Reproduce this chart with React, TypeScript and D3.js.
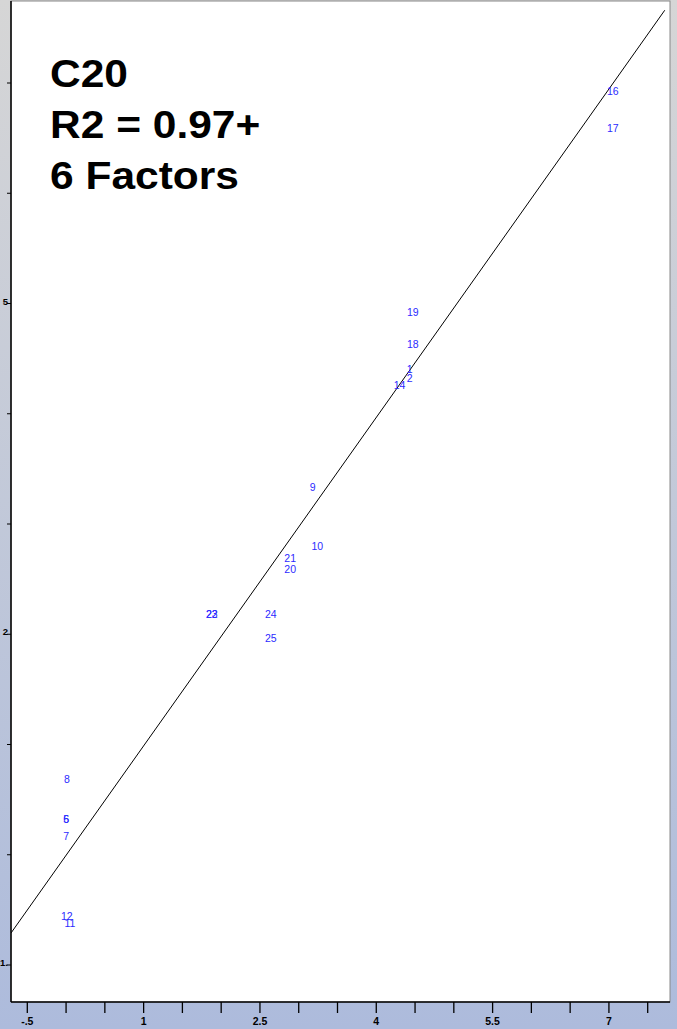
import React from "react";
import * as d3 from "d3";

const xTicks = [-0.5, 0, 0.5, 1, 1.5, 2, 2.5, 3, 3.5, 4, 4.5, 5, 5.5, 6, 6.5, 7, 7.5];
const xTickLabels = ["-.5", "", "", "1", "", "", "2.5", "", "", "4", "", "", "5.5", "", "", "7", ""];
const yTicks = [7, 6, 5, 4, 3, 2, 1, 0, -1];
const yTickLabels = ["", "", "5", "", "", "2", "", "", "-1."];

const pointLabels = ["16", "17", "19", "18", "1", "2", "14", "9", "10", "21", "20", "22", "23", "24", "25", "8", "5", "6", "7", "12", "11"];
const pointX = [7.05, 7.05, 4.47, 4.47, 4.43, 4.43, 4.3, 3.18, 3.24, 2.89, 2.89, 1.88, 1.88, 2.64, 2.64, 0.01, 0.0, 0.0, 0.0, 0.01, 0.05];
const pointY = [6.93, 6.59, 4.92, 4.63, 4.41, 4.32, 4.26, 3.34, 2.8, 2.69, 2.59, 2.18, 2.18, 2.18, 1.97, 0.69, 0.32, 0.32, 0.17, -0.56, -0.62];

const fitX = [-0.71, 7.72];
const fitY = [-0.71, 7.66];

const titleLines = ["C20", "R2 = 0.97+", "6 Factors"];

export default function App() {
  const W = 677, H = 1029;
  const left = 11, right = 670, top = 1, bottom = 1002;
  const x = d3.scaleLinear().domain([-0.5, 7.5]).range([27.3, 647.7]);
  const y = d3.scaleLinear().domain([-1, 7]).range([965, 83]);
  const line = d3.line<number>().x((d) => x(fitX[d])).y((d) => y(fitY[d]));
  return (
    <svg width={W} height={H} style={{ position: "absolute", left: 0, top: 0, display: "block" }}
      fontFamily="'Liberation Sans', Arial, sans-serif">
      <defs>
        <linearGradient id="bg" x1="0" y1="0" x2="0" y2="1">
          <stop offset="0" stopColor="#d6d6d6" />
          <stop offset="1" stopColor="#adbbdc" />
        </linearGradient>
        <clipPath id="plotclip">
          <rect x={left} y={top} width={right - left} height={bottom - top} />
        </clipPath>
      </defs>
      <rect x={0} y={0} width={W} height={H} fill="url(#bg)" />
      <rect x={left} y={top} width={right - left} height={bottom - top} fill="#fff" stroke="#888" strokeWidth={1} />
      <line x1={left} y1={top} x2={left} y2={bottom} stroke="#000" strokeWidth={1.5} />
      <line x1={left} y1={bottom} x2={right} y2={bottom} stroke="#000" strokeWidth={1.5} />
      {xTicks.map((t, i) => (
        <g key={"xt" + i}>
          <line x1={x(t)} x2={x(t)} y1={bottom} y2={bottom + 11} stroke="#000" strokeWidth={1.3} />
          {xTickLabels[i] && (
            <text x={x(t)} y={1025} textAnchor="middle" fontSize={10.5} fontWeight="bold" fill="#000">{xTickLabels[i]}</text>
          )}
        </g>
      ))}
      {yTicks.map((t, i) => (
        <g key={"yt" + i}>
          <line x1={left - 4} x2={left} y1={y(t)} y2={y(t)} stroke="#000" strokeWidth={1} />
          {yTickLabels[i] && (
            <text x={left - 3} y={y(t) + 1} textAnchor="end" fontSize={9.5} fontWeight="bold" fill="#000">{yTickLabels[i]}</text>
          )}
        </g>
      ))}
      <g clipPath="url(#plotclip)">
        <path d={line([0, 1]) || ""} fill="none" stroke="#000" strokeWidth={1} />
        {pointLabels.map((l, i) => (
          <text key={"p" + i} x={x(pointX[i])} y={y(pointY[i])} textAnchor="middle" dominantBaseline="central"
            fontSize={10.5} fill="#2b2bff">{l}</text>
        ))}
      </g>
      {titleLines.map((t, i) => (
        <text key={"t" + i} transform={`translate(50,${87 + i * 51}) scale(1.09,1)`} fontSize={39} fontWeight="bold" fill="#000">{t}</text>
      ))}
    </svg>
  );
}
